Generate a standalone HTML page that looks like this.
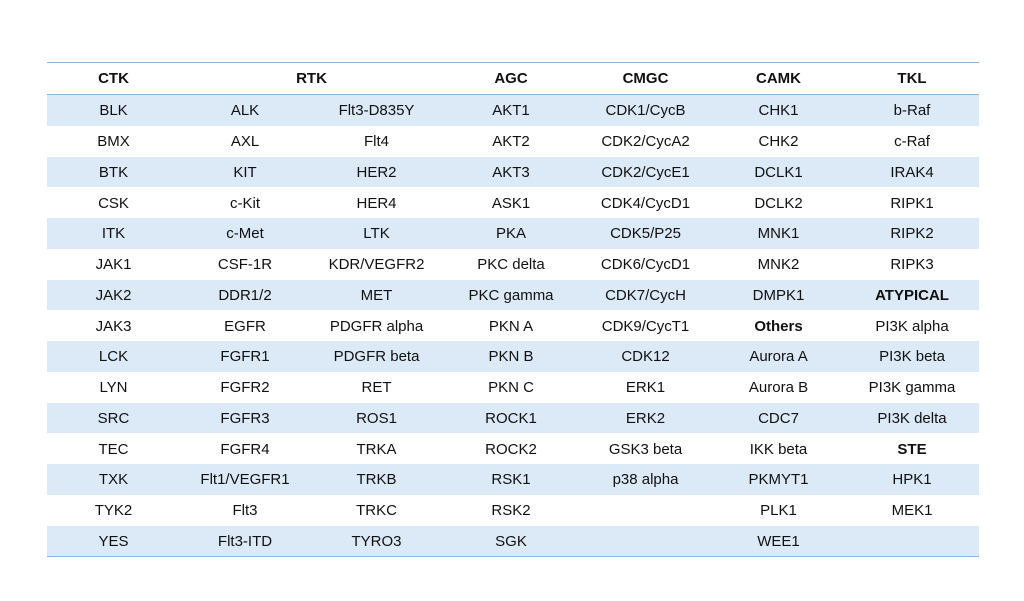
<!DOCTYPE html>
<html><head><meta charset="utf-8"><style>
html,body{margin:0;padding:0;background:#fff;width:1024px;height:601px;overflow:hidden}
table{position:absolute;left:47px;top:62px;width:932px;border-collapse:collapse;table-layout:fixed;font-family:"Liberation Sans",sans-serif;font-size:15px;color:#111}
td,th{text-align:center;padding:0;height:30.75px;white-space:nowrap}
td{padding-top:2px;height:28.75px;line-height:28px}
th{font-weight:bold;height:31px;line-height:30px;border-top:1.5px solid #8fb4d9;border-bottom:1.5px solid #8fb4d9}
tr.b td{background:#dce9f6}
tbody tr:last-child td{border-bottom:1.5px solid #8fb4d9}
.bd{font-weight:bold}
</style></head><body>
<table>
<colgroup><col style="width:133px"><col style="width:130px"><col style="width:133px"><col style="width:136px"><col style="width:133px"><col style="width:133px"><col style="width:134px"></colgroup>
<thead><tr><th>CTK</th><th colspan="2">RTK</th><th>AGC</th><th>CMGC</th><th>CAMK</th><th>TKL</th></tr></thead>
<tbody>
<tr class="b"><td>BLK</td><td>ALK</td><td>Flt3-D835Y</td><td>AKT1</td><td>CDK1/CycB</td><td>CHK1</td><td>b-Raf</td></tr>
<tr><td>BMX</td><td>AXL</td><td>Flt4</td><td>AKT2</td><td>CDK2/CycA2</td><td>CHK2</td><td>c-Raf</td></tr>
<tr class="b"><td>BTK</td><td>KIT</td><td>HER2</td><td>AKT3</td><td>CDK2/CycE1</td><td>DCLK1</td><td>IRAK4</td></tr>
<tr><td>CSK</td><td>c-Kit</td><td>HER4</td><td>ASK1</td><td>CDK4/CycD1</td><td>DCLK2</td><td>RIPK1</td></tr>
<tr class="b"><td>ITK</td><td>c-Met</td><td>LTK</td><td>PKA</td><td>CDK5/P25</td><td>MNK1</td><td>RIPK2</td></tr>
<tr><td>JAK1</td><td>CSF-1R</td><td>KDR/VEGFR2</td><td>PKC delta</td><td>CDK6/CycD1</td><td>MNK2</td><td>RIPK3</td></tr>
<tr class="b"><td>JAK2</td><td>DDR1/2</td><td>MET</td><td>PKC gamma</td><td>CDK7/CycH</td><td>DMPK1</td><td class="bd">ATYPICAL</td></tr>
<tr><td>JAK3</td><td>EGFR</td><td>PDGFR alpha</td><td>PKN A</td><td>CDK9/CycT1</td><td class="bd">Others</td><td>PI3K alpha</td></tr>
<tr class="b"><td>LCK</td><td>FGFR1</td><td>PDGFR beta</td><td>PKN B</td><td>CDK12</td><td>Aurora A</td><td>PI3K beta</td></tr>
<tr><td>LYN</td><td>FGFR2</td><td>RET</td><td>PKN C</td><td>ERK1</td><td>Aurora B</td><td>PI3K gamma</td></tr>
<tr class="b"><td>SRC</td><td>FGFR3</td><td>ROS1</td><td>ROCK1</td><td>ERK2</td><td>CDC7</td><td>PI3K delta</td></tr>
<tr><td>TEC</td><td>FGFR4</td><td>TRKA</td><td>ROCK2</td><td>GSK3 beta</td><td>IKK beta</td><td class="bd">STE</td></tr>
<tr class="b"><td>TXK</td><td>Flt1/VEGFR1</td><td>TRKB</td><td>RSK1</td><td>p38 alpha</td><td>PKMYT1</td><td>HPK1</td></tr>
<tr><td>TYK2</td><td>Flt3</td><td>TRKC</td><td>RSK2</td><td></td><td>PLK1</td><td>MEK1</td></tr>
<tr class="b"><td>YES</td><td>Flt3-ITD</td><td>TYRO3</td><td>SGK</td><td></td><td>WEE1</td><td></td></tr>
</tbody></table>
</body></html>
